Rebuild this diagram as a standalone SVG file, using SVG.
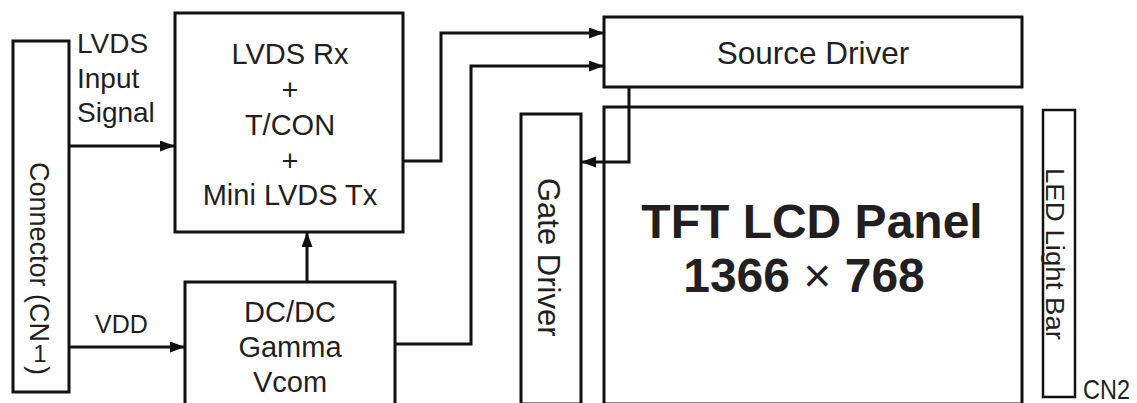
<svg xmlns="http://www.w3.org/2000/svg" width="1137" height="403" viewBox="0 0 1137 403">
<style>
.box{fill:#fff;stroke:#111;stroke-width:3}
.ln{fill:none;stroke:#111;stroke-width:3;marker-end:url(#ah)}
.t{font-family:"Liberation Sans",Arial,sans-serif;fill:#231f20}
.c{text-anchor:middle}
</style>
<defs>
<marker id="ah" markerUnits="userSpaceOnUse" markerWidth="16" markerHeight="12" refX="15" refY="5.5" orient="auto">
<path d="M0,0 L15,5.5 L0,11 z" fill="#111"/>
</marker>
</defs>
<rect width="1137" height="403" fill="#fff"/>
<g id="connector-cn1">
<rect class="box" x="13" y="41" width="56" height="351"/>
<text class="t" font-size="27" transform="translate(30,162) rotate(90)">Connector (CN</text>
<text class="t c" font-size="24" x="40" y="362">1</text>
<text class="t" font-size="27" transform="translate(30,366) rotate(90)">)</text>
</g>
<g id="label-lvds">
<text class="t" font-size="28" x="77" y="53">LVDS</text>
<text class="t" font-size="28" x="77" y="88">Input</text>
<text class="t" font-size="28" x="77" y="122">Signal</text>
</g>
<g id="label-vdd">
<text class="t" font-size="25" x="95" y="333">VDD</text>
</g>
<g id="tcon">
<rect class="box" x="175" y="13" width="228" height="219"/>
<text class="t c" font-size="29" x="290" y="64">LVDS Rx</text>
<text class="t c" font-size="29" x="290" y="100">+</text>
<text class="t c" font-size="29" x="290" y="135">T/CON</text>
<text class="t c" font-size="29" x="290" y="171">+</text>
<text class="t c" font-size="29" x="290" y="205">Mini LVDS Tx</text>
</g>
<g id="dcdc">
<rect class="box" x="185" y="282" width="210" height="130"/>
<text class="t c" font-size="29" x="290" y="322">DC/DC</text>
<text class="t c" font-size="29" x="290" y="357">Gamma</text>
<text class="t c" font-size="29" x="290" y="392">Vcom</text>
</g>
<g id="source-driver">
<rect class="box" x="604" y="17" width="418" height="70"/>
<text class="t c" font-size="31.5" x="813" y="64">Source Driver</text>
</g>
<g id="gate-driver">
<rect class="box" x="521" y="114" width="60" height="290"/>
<text class="t" font-size="31" transform="translate(538,178) rotate(90)">Gate Driver</text>
</g>
<g id="panel">
<rect class="box" x="604" y="107" width="418" height="297"/>
<text class="t c" font-size="48" font-weight="bold" x="812" y="238">TFT LCD Panel</text>
<text class="t c" font-size="48" font-weight="bold" x="804" y="292">1366 <tspan font-weight="normal">×</tspan> 768</text>
</g>
<g id="led-bar">
<rect class="box" x="1043" y="110" width="32" height="287" style="stroke-width:2.5"/>
<text class="t" font-size="26" textLength="172" lengthAdjust="spacingAndGlyphs" transform="translate(1046,168) rotate(90)">LED Light Bar</text>
<text class="t" font-size="28" x="1083" y="399" textLength="47" lengthAdjust="spacingAndGlyphs">CN2</text>
</g>
<g id="connectors">
<path class="ln" d="M69,146 H175"/>
<path class="ln" d="M69,347 H185"/>
<path class="ln" d="M307,282 V232"/>
<path class="ln" d="M403,161 H441 V33 H604"/>
<path class="ln" d="M395,344 H471 V66 H604"/>
<path class="ln" d="M629,87 V162 H581"/>
</g>
</svg>
